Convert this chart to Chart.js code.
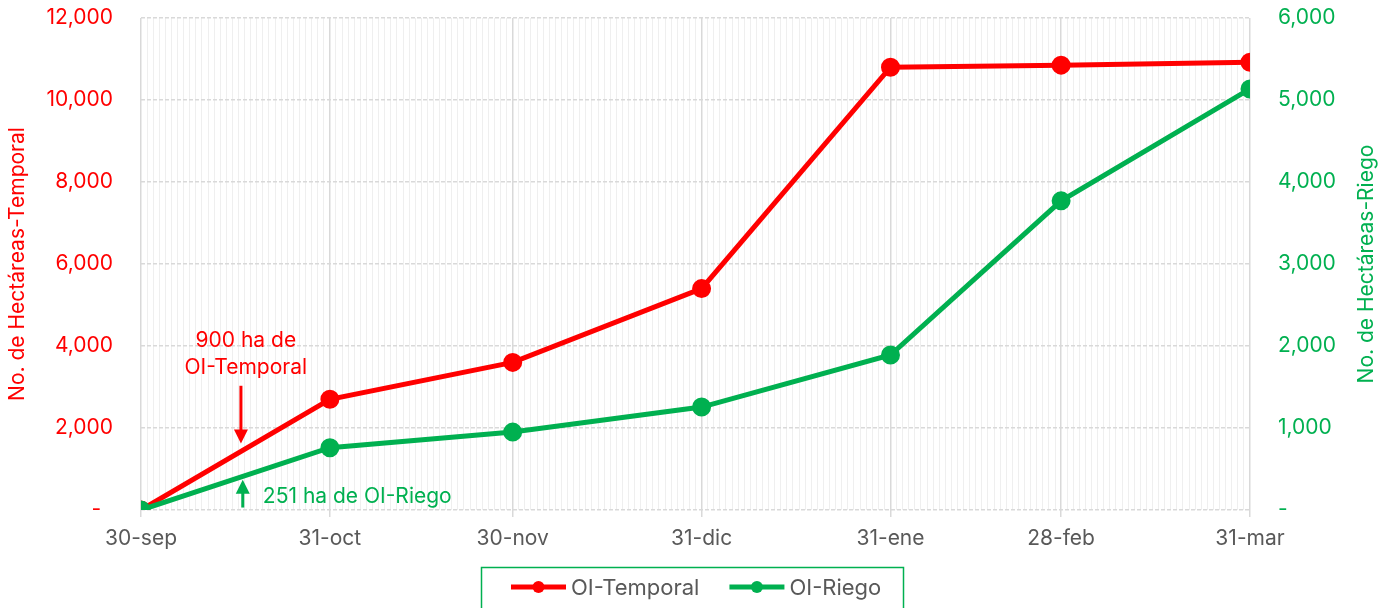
<!DOCTYPE html>
<html>
<head>
<meta charset="utf-8">
<script src="https://cdn.jsdelivr.net/npm/chart.js@4/dist/chart.umd.min.js"></script>
<style>
html,body{margin:0;padding:0;background:#fff;}
#wrap{width:1384px;height:608px;position:relative;}
</style>
</head>
<body>
<div id="wrap"><canvas id="c" width="1384" height="608"></canvas></div>
<script>
// ---- Data ----
const categories = ['30-sep','31-oct','30-nov','31-dic','31-ene','28-feb','31-mar'];
const categoryDays = [0, 31, 61, 92, 123, 151, 182]; // days since 30-sep
const temporalValues = [0, 2700, 3600, 5400, 10800, 10850, 10920];
const riegoValues = [0, 760, 950, 1255, 1890, 3770, 5135];
const leftTicks = [0, 2000, 4000, 6000, 8000, 10000, 12000];
const rightTicks = [0, 1000, 2000, 3000, 4000, 5000, 6000];
const seriesNames = ['OI-Temporal', 'OI-Riego'];
const leftTitle = 'No. de Hectáreas-Temporal';
const rightTitle = 'No. de Hectáreas-Riego';
const annotationTexts = {temporal: ['900 ha de', 'OI-Temporal'], riego: '251 ha de OI-Riego'};

const RED = '#ff0000', GREEN = '#00b050', GRAY = '#595959';
const FONT = 'Inter, "Noto Sans", sans-serif';
const FS = 21;

const fmt = v => v === 0 ? '-' : v.toLocaleString('en-US');

const annotationPlugin = {
  id: 'annot',
  afterDatasetsDraw(chart) {
    const ctx = chart.ctx, x = chart.scales.x, yl = chart.scales.yL, yr = chart.scales.yR;
    ctx.save();
    // red arrow (down)
    const ax = x.getPixelForValue(16.4);
    const y1 = yl.getPixelForValue(3030), y2 = yl.getPixelForValue(1620);
    ctx.strokeStyle = RED; ctx.fillStyle = RED; ctx.lineWidth = 3;
    ctx.beginPath(); ctx.moveTo(ax, y1); ctx.lineTo(ax, y2 - 12); ctx.stroke();
    ctx.beginPath(); ctx.moveTo(ax - 7, y2 - 14); ctx.lineTo(ax + 7, y2 - 14); ctx.lineTo(ax, y2); ctx.closePath(); ctx.fill();
    ctx.font = FS + 'px ' + FONT; ctx.textAlign = 'center'; ctx.textBaseline = 'middle';
    const tx = x.getPixelForValue(17.2);
    ctx.fillText(annotationTexts.temporal[0], tx, yl.getPixelForValue(4120));
    ctx.fillText(annotationTexts.temporal[1], tx, yl.getPixelForValue(3460));
    // green arrow (up)
    const gx = x.getPixelForValue(16.7);
    const g1 = yr.getPixelForValue(30), g2 = yr.getPixelForValue(370);
    ctx.strokeStyle = GREEN; ctx.fillStyle = GREEN;
    ctx.beginPath(); ctx.moveTo(gx, g1); ctx.lineTo(gx, g2 + 12); ctx.stroke();
    ctx.beginPath(); ctx.moveTo(gx - 7, g2 + 14); ctx.lineTo(gx + 7, g2 + 14); ctx.lineTo(gx, g2); ctx.closePath(); ctx.fill();
    ctx.textAlign = 'left';
    ctx.fillText(annotationTexts.riego, x.getPixelForValue(20), yr.getPixelForValue(160));
    ctx.restore();
  }
};

const rightTitlePlugin = {
  id: 'rightTitle',
  afterDraw(chart) {
    const ctx = chart.ctx, s = chart.scales.yR;
    ctx.save();
    ctx.font = FS + 'px ' + FONT;
    ctx.fillStyle = GREEN; ctx.textAlign = 'center'; ctx.textBaseline = 'middle';
    ctx.translate(s.right - 17, (s.top + s.bottom) / 2);
    ctx.rotate(-Math.PI / 2);
    ctx.fillText(rightTitle, 0, 0);
    ctx.restore();
  }
};

const legendPlugin = {
  id: 'customLegend',
  afterDraw(chart) {
    const ctx = chart.ctx;
    ctx.save();
    ctx.font = '22px ' + FONT;
    const colors = [RED, GREEN];
    const markerW = 55, gapText = 5, gapItem = 30;
    const widths = seriesNames.map(n => ctx.measureText(n).width);
    const total = markerW * 2 + gapText * 2 + widths[0] + widths[1] + gapItem;
    const boxW = Math.round(total + 52);
    const cx = chart.width / 2;
    const bx = Math.round(cx - boxW / 2), by = 567;
    ctx.strokeStyle = GREEN; ctx.lineWidth = 1.5;
    ctx.strokeRect(bx + 0.5, by + 0.5, boxW, 60);
    let px = bx + 30;
    const py = 587;
    ctx.textBaseline = 'middle'; ctx.textAlign = 'left';
    seriesNames.forEach((n, i) => {
      ctx.strokeStyle = colors[i]; ctx.fillStyle = colors[i]; ctx.lineWidth = 5;
      ctx.beginPath(); ctx.moveTo(px, py); ctx.lineTo(px + markerW, py); ctx.stroke();
      ctx.beginPath(); ctx.arc(px + markerW / 2, py, 6, 0, Math.PI * 2); ctx.fill();
      px += markerW + gapText;
      ctx.fillStyle = GRAY;
      ctx.fillText(n, px, py + 1);
      px += widths[i] + gapItem;
    });
    ctx.restore();
  }
};

const majorSet = new Set(categoryDays);
const isMajor = c => majorSet.has(c.tick && c.tick.value);

new Chart(document.getElementById('c'), {
  type: 'line',
  data: {
    datasets: [
      {
        label: seriesNames[0],
        data: categoryDays.map((d, i) => ({x: d, y: temporalValues[i]})),
        borderColor: RED, backgroundColor: RED,
        borderWidth: 5, pointRadius: 7, pointHoverRadius: 7,
        yAxisID: 'yL', order: 1, tension: 0
      },
      {
        label: seriesNames[1],
        data: categoryDays.map((d, i) => ({x: d, y: riegoValues[i]})),
        borderColor: GREEN, backgroundColor: GREEN,
        borderWidth: 5, pointRadius: 7, pointHoverRadius: 7,
        yAxisID: 'yR', order: 0, tension: 0
      }
    ]
  },
  options: {
    responsive: false,
    animation: false,
    layout: {padding: {top: 18, bottom: 53, left: 0, right: 0}},
    plugins: {legend: {display: false}, tooltip: {enabled: false}},
    scales: {
      x: {
        type: 'linear',
        min: categoryDays[0], max: categoryDays[categoryDays.length - 1],
        afterBuildTicks: s => { const t = []; for (let d = s.min; d <= s.max; d++) t.push({value: d}); s.ticks = t; },
        afterFit: s => { s.height = 45; s.paddingLeft = 0; s.paddingRight = 0; },
        ticks: {
          autoSkip: false, maxRotation: 0, minRotation: 0, padding: 9,
          color: GRAY, font: {family: FONT, size: FS},
          callback: v => { const i = categoryDays.indexOf(v); return i >= 0 ? categories[i] : ''; }
        },
        grid: {
          color: c => isMajor(c) ? '#d9d9d9' : '#efefef',
          tickColor: c => isMajor(c) ? '#d9d9d9' : 'rgba(0,0,0,0)',
          lineWidth: c => isMajor(c) ? 1.5 : 1,
          tickLength: 7, drawTicks: true
        },
        border: {display: false}
      },
      yL: {
        type: 'linear', position: 'left',
        min: 0, max: 12000,
        afterBuildTicks: s => { s.ticks = leftTicks.map(v => ({value: v})); },
        afterFit: s => { s.width = 141; s.paddingTop = 0; s.paddingBottom = 0; },
        ticks: {color: RED, font: {family: FONT, size: FS}, padding: 28, callback: v => v === 0 ? '-  ' : fmt(v)},
        grid: {color: '#d9d9d9', lineWidth: 1.5, drawTicks: false},
        border: {display: false, dash: [4, 2]},
        title: {display: true, text: leftTitle, color: RED, font: {family: FONT, size: FS}, padding: {top: 5, bottom: 0}}
      },
      yR: {
        type: 'linear', position: 'right',
        min: 0, max: 6000,
        afterBuildTicks: s => { s.ticks = rightTicks.map(v => ({value: v})); },
        afterFit: s => { s.width = 134; s.paddingTop = 0; s.paddingBottom = 0; },
        ticks: {color: GREEN, font: {family: FONT, size: FS}, padding: 28, callback: v => v === 0 ? '-' : fmt(v)},
        grid: {display: false, drawTicks: false},
        border: {display: false},
        title: {display: false}
      }
    }
  },
  plugins: [annotationPlugin, rightTitlePlugin, legendPlugin]
});
</script>
</body>
</html>
